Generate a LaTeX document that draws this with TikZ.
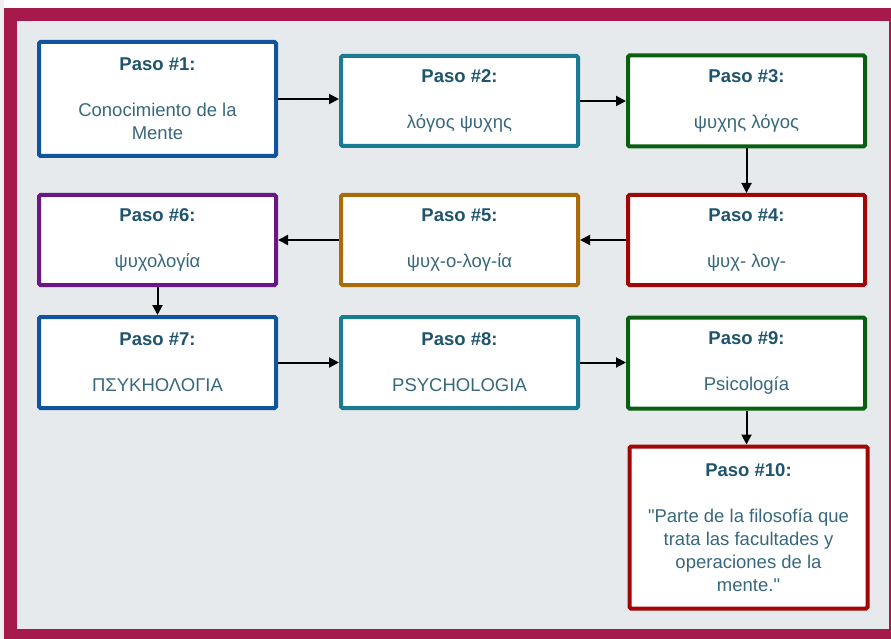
\documentclass[tikz,border=0pt]{standalone}
\usepackage{fontspec}
\setmainfont{Liberation Sans}[Ligatures=TeXOff]
\usetikzlibrary{arrows.meta}
\definecolor{frame}{RGB}{165,26,74}
\definecolor{inner}{RGB}{230,234,237}
\definecolor{cblue}{RGB}{16,84,160}
\definecolor{cteal}{RGB}{26,124,146}
\definecolor{cgreen}{RGB}{10,96,16}
\definecolor{cred}{RGB}{160,6,6}
\definecolor{cbrown}{RGB}{170,108,10}
\definecolor{cpurple}{RGB}{106,22,132}
\definecolor{ttl}{RGB}{30,84,110}
\definecolor{txt}{RGB}{56,104,126}
\tikzset{
  stepbox/.style={draw=#1, line width=4pt, fill=white, rounded corners=1.5pt,
    minimum width=237pt, align=center, inner sep=0pt,
    font=\fontsize{18.5}{23}\selectfont, text=txt},
  conn/.style={-{Triangle[length=10pt,width=10pt]}, line width=2pt, black}
}
\newcommand{\ttlx}[1]{{\bfseries\color{ttl}#1}}
\begin{document}
\begin{tikzpicture}[x=1pt,y=-1pt]
\useasboundingbox (0,0) rectangle (891,639);
\fill[white!94!black] (0,0) rectangle (891,639);
\fill[white] (4,0) rectangle (891,8);
\fill[frame] (4,8) rectangle (891,639);
\fill[inner] (17,21) rectangle (889,629);

\node[stepbox=cblue, minimum height=114pt] (b1) at (157.5,99) {\ttlx{Paso \#1:}\\[23pt]Conocimiento de la\\Mente};
\node[stepbox=cteal, minimum height=90pt] (b2) at (459.5,101) {\ttlx{Paso \#2:}\\[23pt]λόγος ψυχης};
\node[stepbox=cgreen, minimum height=91pt] (b3) at (746.5,101) {\ttlx{Paso \#3:}\\[23pt]ψυχης λόγος};

\node[stepbox=cred, minimum height=90pt] (b4) at (746.5,240) {\ttlx{Paso \#4:}\\[23pt]ψυχ- λογ-};
\node[stepbox=cbrown, minimum height=90pt] (b5) at (459.5,240) {\ttlx{Paso \#5:}\\[23pt]ψυχ-ο-λογ-ία};
\node[stepbox=cpurple, minimum height=90pt] (b6) at (157.5,240) {\ttlx{Paso \#6:}\\[23pt]ψυχολογία};

\node[stepbox=cblue, minimum height=91pt] (b7) at (157.5,362.5) {\ttlx{Paso \#7:}\\[23pt]ΠΣΥΚΗΟΛΟΓΙΑ};
\node[stepbox=cteal, minimum height=91pt] (b8) at (459.5,362.5) {\ttlx{Paso \#8:}\\[23pt]PSYCHOLOGIA};
\node[stepbox=cgreen, minimum height=91pt] (b9) at (746.5,363) {\ttlx{Paso \#9:}\\[23pt]Psicología};

\node[stepbox=cred, minimum height=162pt, minimum width=238pt] (b10) at (748.5,527.5) {\ttlx{Paso \#10:}\\[23pt]"Parte de la filosofía que\\trata las facultades y\\operaciones de la\\mente."};

\draw[conn] (b1.east) -- (b1.east -| b2.west);
\draw[conn] (b2.east) -- (b2.east -| b3.west);
\draw[conn] (b3.south) -- (b3.south |- b4.north);
\draw[conn] (b4.west) -- (b4.west -| b5.east);
\draw[conn] (b5.west) -- (b5.west -| b6.east);
\draw[conn] (b6.south) -- (b6.south |- b7.north);
\draw[conn] (b7.east) -- (b7.east -| b8.west);
\draw[conn] (b8.east) -- (b8.east -| b9.west);
\draw[conn] (b9.south) -- (b9.south |- b10.north);
\end{tikzpicture}
\end{document}
